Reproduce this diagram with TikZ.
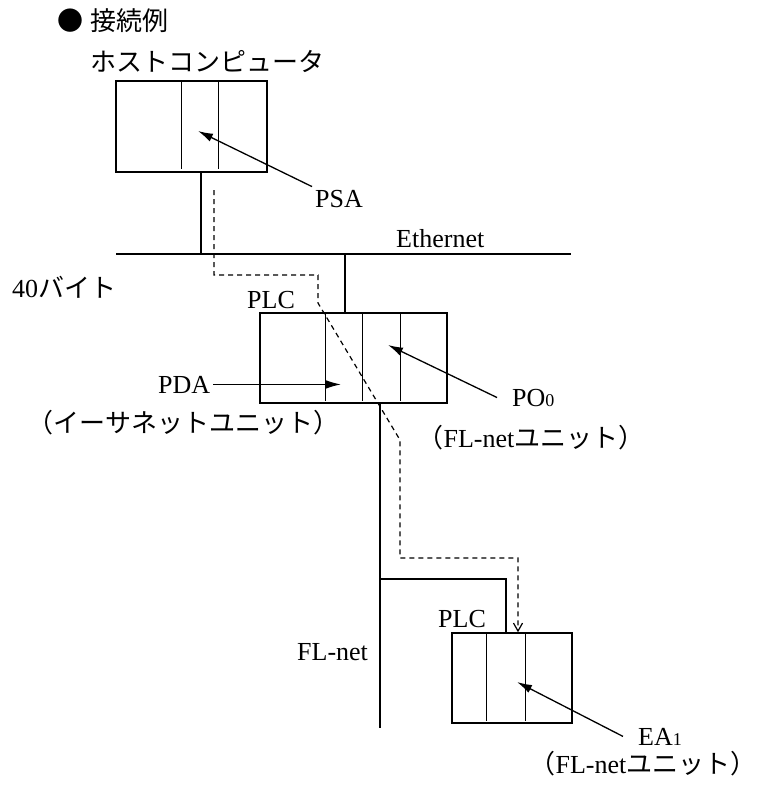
\documentclass[tikz,border=0pt]{standalone}
\usepackage{fontspec}
\setmainfont{Liberation Serif}
\newfontfamily\jp{Noto Sans CJK JP}
\usetikzlibrary{arrows.meta, positioning, calc}

\begin{document}
\begin{tikzpicture}[x=1pt, y=-1pt,
        every node/.style={font=\fontsize{26}{30}\selectfont},
        unit/.style={draw, rectangle, line width=1.4pt, minimum width=#1, minimum height=90pt, inner sep=0pt},
        tag/.style={inner sep=3pt, anchor=base west},
        note/.style={inner sep=0pt, anchor=base},
        wire/.style={line width=1.4pt},
        arrow/.style={line width=1.3pt, -{Latex[length=15pt, width=8.5pt]}},
        route/.style={line width=1.2pt, dash pattern=on 5pt off 4pt, -{Straight Barb[length=8pt, width=9pt]}}
    ]
        \useasboundingbox (0,0) rectangle (776,787);

        \node[anchor=west, inner sep=0pt, font=\jp\fontsize{26}{30}\selectfont] (title) at (57,21) {●\hspace{7pt}接続例};

        % host computer
        \node[tag] (hostname) at (87,71) {\jp ホストコンピュータ};
        \node[unit=151pt, minimum height=91pt] (host) at (191.5,126.5) {};
        \draw[wire] ($(host.north west)+(66,0)$) -- ($(host.south west)+(66,-4)$);
        \draw[wire] ($(host.north west)+(103,0)$) -- ($(host.south west)+(103,-4)$);
        \node[tag] (psa) at (312,207) {PSA};
        \coordinate (psa tip) at (198,131);
        \draw[arrow] (psa.north west) -- (psa tip);

        % Ethernet
        \coordinate (eth w) at (116,254);
        \coordinate (eth e) at (571,254);
        \draw[wire] (eth w) -- (eth e);
        \node[tag] (ethname) at (393,247) {Ethernet};
        \coordinate (host tap) at ($(host.south)+(9.5,0)$);
        \draw[wire] (host tap) -- (host tap |- eth w);
        \node[tag] (size) at (9,297) {40{\jp バイト}};

        % PLC on both networks
        \node[unit=187pt] (plc a) at (353.5,358) {};
        \draw[wire] ($(plc a.north west)+(66,0)$) -- ($(plc a.south west)+(66,-3)$);
        \draw[wire] ($(plc a.north west)+(103,0)$) -- ($(plc a.south west)+(103,-3)$);
        \draw[wire] ($(plc a.north west)+(141,0)$) -- ($(plc a.south west)+(141,-3)$);
        \node[tag] (plc a name) at (244,308) {PLC};
        \coordinate (eth tap) at (345,254);
        \draw[wire] (eth tap) -- (eth tap |- plc a.north);

        \node[tag] (pda) at (155,393) {PDA};
        \coordinate (pda tip) at (341,384);
        \draw[arrow] (pda.east) -- (pda.east -| pda tip);
        \node[note] (pda unit) at (183.5,432) {\jp （イーサネットユニット）};

        \node[tag] (po) at (509,406) {PO{\fontsize{18}{20}\selectfont 0}};
        \coordinate (po tip) at (388,345);
        \draw[arrow] ([xshift=-12pt]po.west) -- (po tip);
        \node[note] (po unit) at (531,447) {{\jp （}FL-net{\jp ユニット）}};

        % FL-net
        \coordinate (fl top) at ($(plc a.south)+(26.5,0)$);
        \coordinate (fl bottom) at (380,728);
        \draw[wire] (fl top) -- (fl bottom);
        \node[tag] (flname) at (294,660) {FL-net};

        \node[unit=120pt] (plc b) at (512,678) {};
        \draw[wire] ($(plc b.north west)+(35,0)$) -- ($(plc b.south west)+(35,-3)$);
        \draw[wire] ($(plc b.north west)+(74,0)$) -- ($(plc b.south west)+(74,-3)$);
        \node[tag] (plc b name) at (435,627) {PLC};
        \coordinate (fl branch) at (380,579);
        \draw[wire] (fl branch) -| ($(plc b.north)+(-6,0)$);

        \node[tag] (ea) at (635,745) {EA{\fontsize{18}{20}\selectfont 1}};
        \coordinate (ea tip) at (517,682);
        \draw[arrow] ([xshift=-12pt]ea.west) -- (ea tip);
        \node[note] (ea unit) at (643,773) {{\jp （}FL-net{\jp ユニット）}};

        % message route
        \coordinate (route start) at (214,190);
        \coordinate (route end) at ($(plc b.north)+(6,0)$);
        \draw[route] (route start) -- (214,275) -- (318,275) -- (318,303) -- (400,440) -- (400,558) -| (route end);
    \end{tikzpicture}
\end{document}
